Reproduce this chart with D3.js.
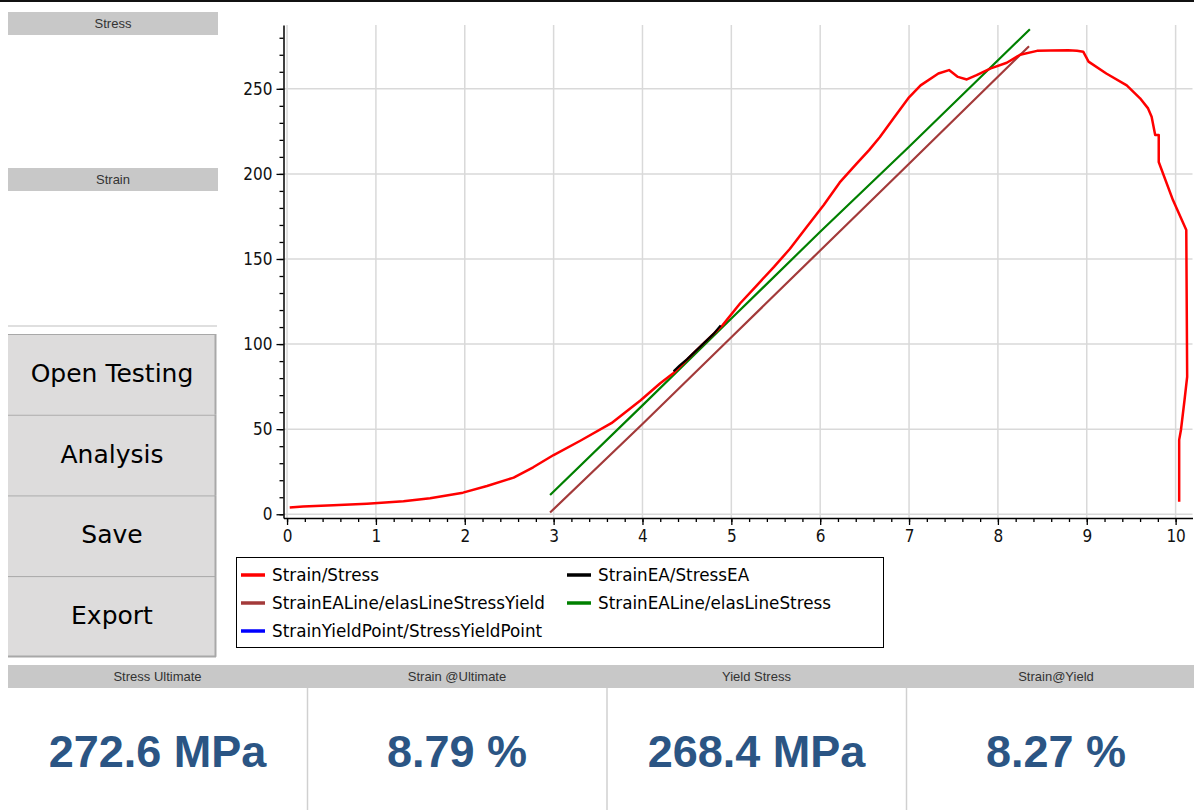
<!DOCTYPE html>
<html>
<head>
<meta charset="utf-8">
<style>
body { margin: 0; background: #fff; }
svg { display: block; }
.axis .domain { stroke: #000; stroke-width: 1.5; }
.axis line { stroke: #000; stroke-width: 1.3; }
.axis text { font-family: "DejaVu Sans Condensed", "DejaVu Sans", sans-serif; font-size: 17px; fill: #111; }
</style>
</head>
<body>
<svg width="1194" height="810"></svg>
<script src="https://cdn.jsdelivr.net/npm/d3@7/dist/d3.min.js"></script>
<script>

// Strain/Stress test curve (strain %, stress MPa)
var strain = [0.03, 0.18, 0.52, 0.9, 1.31, 1.61, 1.98, 2.25, 2.55, 2.77, 3.0, 3.3, 3.65, 3.98, 4.2, 4.35,
  4.6, 4.9, 5.1, 5.29, 5.48, 5.66, 5.85, 6.04, 6.22, 6.41, 6.55, 6.67, 6.83, 7.0, 7.13, 7.33, 7.45,
  7.55, 7.65, 7.76, 7.92, 8.1, 8.25, 8.44, 8.59, 8.79, 8.89, 8.96, 9.02, 9.22, 9.45, 9.6, 9.69, 9.73,
  9.77, 9.81, 9.81, 9.97, 10.12, 10.13, 10.1, 10.06, 10.04, 10.04];
var stress = [3.9, 4.5, 5.3, 6.2, 7.6, 9.4, 12.7, 16.6, 21.5, 27.6, 34.8, 43.2, 53.5, 67, 77, 83,
  96, 111, 124, 134.7, 145.4, 156, 169, 181.7, 195, 206, 214, 221.5, 233, 245, 252, 259, 261,
  257, 255.5, 258, 262, 265.3, 270, 272.3, 272.5, 272.6, 272.4, 271.8, 266, 259, 252, 244.4, 238.5, 233.6,
  222.8, 222.8, 207, 184.6, 167, 80.8, 67, 49.5, 43.7, 7.4];

// elastic area segment
var strainEA = [4.35, 4.42, 4.5, 4.6, 4.7, 4.8, 4.88];
var stressEA = [84, 87.5, 91, 96, 101, 106, 111];

// elastic line offset (yield)
var strainLineYield = [2.96, 4.0, 5.0, 6.0, 7.0, 8.35];
var stressLineYield = [1, 53, 104, 155, 206, 275];

// elastic line
var strainLine = [2.96, 4.0, 5.0, 6.0, 7.0, 8.36];
var stressLine = [11.3, 64, 115, 166, 216, 285];

// yield point
var strainYield = [8.27];
var stressYield = [268.4];

var seriesNames = ["Strain/Stress", "StrainEA/StressEA", "StrainEALine/elasLineStressYield",
  "StrainEALine/elasLineStress", "StrainYieldPoint/StressYieldPoint"];
var seriesColors = ["#ff0000", "#000000", "#a33a3a", "#008000", "#0000ff"];

var xTicks = [0, 1, 2, 3, 4, 5, 6, 7, 8, 9, 10];
var yTicks = [0, 50, 100, 150, 200, 250];

var buttons = ["Open Testing", "Analysis", "Save", "Export"];
var statHeaders = ["Stress Ultimate", "Strain @Ultimate", "Yield Stress", "Strain@Yield"];
var statValues = ["272.6 MPa", "8.79 %", "268.4 MPa", "8.27 %"];

var svg = d3.select("svg");
var uiFont = "\"DejaVu Sans\", sans-serif";

// top border
svg.append("rect").attr("x", 0).attr("y", 0).attr("width", 1194).attr("height", 2).attr("fill", "#111");

// left panel headers
[["Stress", 12], ["Strain", 168]].forEach(function(h) {
  svg.append("rect").attr("x", 8).attr("y", h[1]).attr("width", 210).attr("height", 23).attr("fill", "#c8c8c8");
  svg.append("text").attr("x", 113).attr("y", h[1] + 16).attr("text-anchor", "middle")
    .attr("font-family", "\"Liberation Sans\", Arial, sans-serif").attr("font-size", 13).attr("fill", "#333")
    .text(h[0]);
});
svg.append("line").attr("x1", 8).attr("x2", 217).attr("y1", 326).attr("y2", 326)
  .attr("stroke", "#d4d4d4").attr("stroke-width", 1.5);

// buttons
var btn = svg.append("g").selectAll("g").data(buttons).enter().append("g")
  .attr("transform", function(d, i) { return "translate(8," + (334 + i * 80.7) + ")"; });
btn.append("rect").attr("width", 208).attr("height", 80.7).attr("fill", "#dddcdc");
btn.append("line").attr("x1", 0).attr("x2", 208).attr("y1", 0.5).attr("y2", 0.5).attr("stroke", "#a8a8a8");
btn.append("line").attr("x1", 207.5).attr("x2", 207.5).attr("y1", 0).attr("y2", 80.7).attr("stroke", "#a8a8a8").attr("stroke-width", 2);
btn.append("text").attr("x", 104).attr("y", 48).attr("text-anchor", "middle")
  .attr("font-family", uiFont).attr("font-size", 25).attr("fill", "#000")
  .text(function(d) { return d; });
svg.append("line").attr("x1", 8).attr("x2", 216).attr("y1", 656.5).attr("y2", 656.5).attr("stroke", "#a8a8a8").attr("stroke-width", 2);

// chart
var x = d3.scaleLinear().domain([-0.04, 10.19]).range([283.5, 1192.5]);
var y = d3.scaleLinear().domain([-2.2, 287.5]).range([518, 25]);

var grid = svg.append("g").attr("stroke", "#d9d9d9").attr("stroke-width", 1.5);
grid.selectAll(".gx").data(xTicks).enter().append("line")
  .attr("x1", function(d) { return x(d); }).attr("x2", function(d) { return x(d); })
  .attr("y1", y.range()[1]).attr("y2", y.range()[0]);
grid.selectAll(".gy").data(yTicks).enter().append("line")
  .attr("y1", function(d) { return y(d); }).attr("y2", function(d) { return y(d); })
  .attr("x1", x.range()[0]).attr("x2", x.range()[1]);

svg.append("g").attr("class", "axis")
  .attr("transform", "translate(0," + y.range()[0] + ")")
  .call(d3.axisBottom(x).tickValues(d3.range(0, 10.2, 0.2)).tickSize(4).tickFormat("").tickSizeOuter(0));
svg.append("g").attr("class", "axis")
  .attr("transform", "translate(0," + y.range()[0] + ")")
  .call(d3.axisBottom(x).tickValues(xTicks).tickSize(7).tickPadding(5).tickSizeOuter(0))
  .call(function(g) { g.select(".domain").remove(); });

svg.append("g").attr("class", "axis")
  .attr("transform", "translate(" + x.range()[0] + ",0)")
  .call(d3.axisLeft(y).tickValues(d3.range(0, 290, 10)).tickSize(4).tickFormat("").tickSizeOuter(0));
svg.append("g").attr("class", "axis")
  .attr("transform", "translate(" + x.range()[0] + ",0)")
  .call(d3.axisLeft(y).tickValues(yTicks).tickSize(7).tickPadding(4).tickSizeOuter(0))
  .call(function(g) { g.select(".domain").remove(); });

var line = d3.line().x(function(d) { return x(d[0]); }).y(function(d) { return y(d[1]); });
function pairs(a, b) { return a.map(function(v, i) { return [v, b[i]]; }); }

var plot = svg.append("g").attr("fill", "none").attr("stroke-linejoin", "round");
plot.append("path").datum(pairs(strainLineYield, stressLineYield)).attr("d", line)
  .attr("stroke", seriesColors[2]).attr("stroke-width", 2.2);
plot.append("path").datum(pairs(strainLine, stressLine)).attr("d", line)
  .attr("stroke", seriesColors[3]).attr("stroke-width", 2.2);
plot.append("path").datum(pairs(strain, stress)).attr("d", line)
  .attr("stroke", seriesColors[0]).attr("stroke-width", 2.5);
plot.append("path").datum(pairs(strainEA, stressEA)).attr("d", line)
  .attr("stroke", seriesColors[1]).attr("stroke-width", 2.2);
plot.append("path").datum(pairs(strainYield, stressYield)).attr("d", line)
  .attr("stroke", seriesColors[4]).attr("stroke-width", 2.2);

// legend
svg.append("rect").attr("x", 236.5).attr("y", 557.5).attr("width", 647).attr("height", 90)
  .attr("fill", "#fff").attr("stroke", "#000");
var legendOrder = [0, 1, 2, 3, 4];
var leg = svg.append("g").selectAll("g").data(legendOrder).enter().append("g")
  .attr("transform", function(d, i) { return "translate(" + (i % 2 ? 567 : 241) + "," + (575 + Math.floor(i / 2) * 28) + ")"; });
leg.append("line").attr("x1", 0).attr("x2", 24).attr("stroke-width", 3.5)
  .attr("stroke", function(d) { return seriesColors[d]; });
leg.append("text").attr("x", 31).attr("dy", "0.36em")
  .attr("font-family", uiFont).attr("font-size", 16.8).attr("fill", "#000")
  .text(function(d) { return seriesNames[d]; });

// stats
svg.append("rect").attr("x", 8).attr("y", 665).attr("width", 1186).attr("height", 23).attr("fill", "#c8c8c8");
var stat = svg.append("g").selectAll("g").data(statHeaders).enter().append("g")
  .attr("transform", function(d, i) { return "translate(" + (8 + i * 299.5) + ",0)"; });
stat.append("text").attr("x", 149.5).attr("y", 681).attr("text-anchor", "middle")
  .attr("font-family", "\"Liberation Sans\", Arial, sans-serif").attr("font-size", 13).attr("fill", "#333")
  .text(function(d) { return d; });
stat.filter(function(d, i) { return i > 0; }).append("line")
  .attr("x1", 0).attr("x2", 0).attr("y1", 688).attr("y2", 810).attr("stroke", "#d0d0d0").attr("stroke-width", 1.5);
stat.append("text").attr("x", 149.5).attr("y", 767).attr("text-anchor", "middle")
  .attr("font-family", "\"Liberation Sans\", Arial, sans-serif").attr("font-weight", "bold")
  .attr("font-size", 45).attr("fill", "#2b5584")
  .text(function(d, i) { return statValues[i]; });

</script>
</body>
</html>
